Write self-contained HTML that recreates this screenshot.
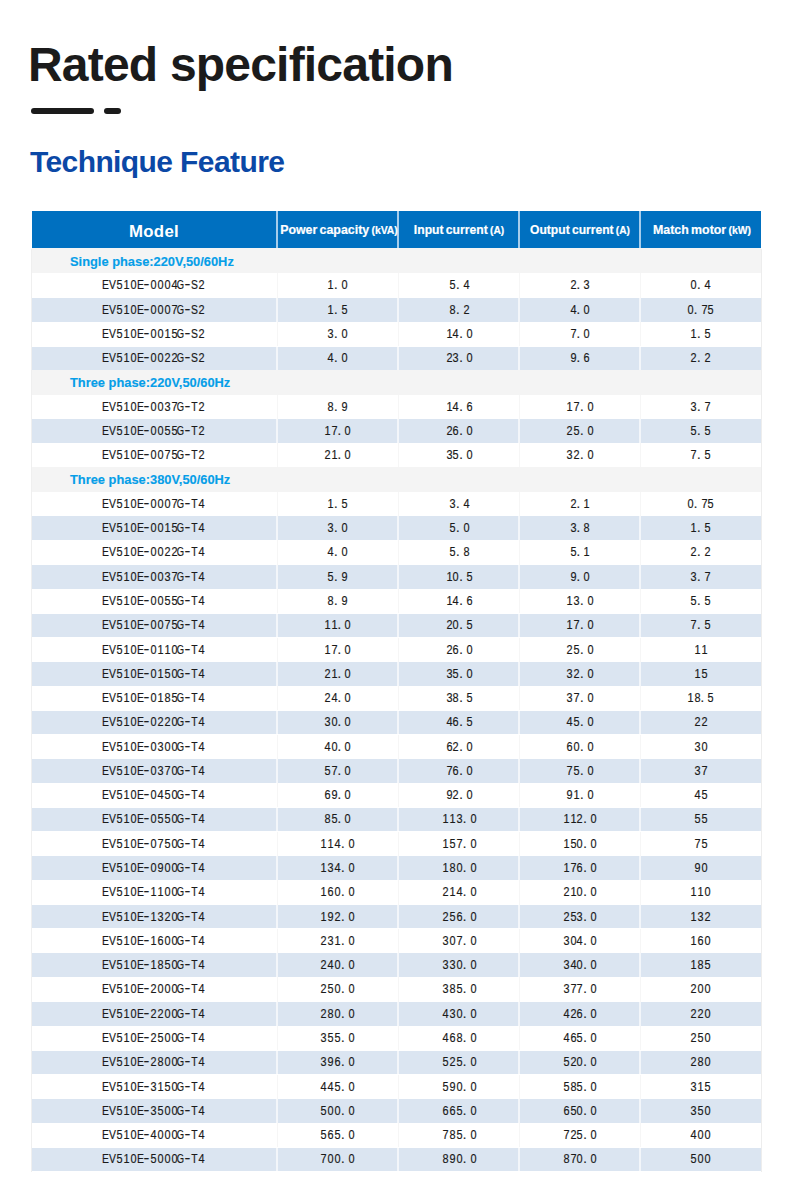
<!DOCTYPE html><html><head><meta charset="utf-8"><style>
*{margin:0;padding:0;box-sizing:border-box}
html,body{width:790px;height:1194px;background:#fff;overflow:hidden;position:relative}
.a{position:absolute}
.t{font-family:"Liberation Sans",sans-serif;white-space:nowrap}
#title{left:28px;top:37px;font-size:48px;font-weight:bold;color:#1b1b1b;letter-spacing:-0.8px}
.dash{background:#1b1b1b;border-radius:3px;height:6px;top:108px}
#sub{left:30px;top:145px;font-size:30px;font-weight:bold;color:#0b48a6;letter-spacing:-0.6px}
.hdr{background:#0070c0}
.hl{color:#fff;font-weight:bold;text-align:center;line-height:1}
.sec{background:#f4f4f4}
.sl{color:#069ee8;font-weight:bold;font-size:13.5px;left:69.8px;-webkit-text-stroke:0.15px #069ee8;line-height:1;transform-origin:0 0;transform:scaleX(0.952)}
.rb{background:#dbe5f1}
.m{font-family:"Liberation Sans",sans-serif;color:#1a1a1a;font-size:13px;line-height:1;white-space:nowrap;display:flex;justify-content:center;-webkit-text-stroke:0.18px #1a1a1a}
.m i{font-style:normal;display:inline-flex;justify-content:center;width:6.83px;overflow:visible}
.m i.L{transform:scaleX(0.8)}
.m i.G{transform:scaleX(0.72)}
.m i.d{transform:scaleX(0.84)}
.m i.p{justify-content:flex-start;text-indent:0}
.m i.h{transform:translateY(-0.8px) scaleX(1.35)}
</style></head><body>
<div class="a t" id="title">Rated specification</div>
<div class="a dash" style="left:31px;width:63px"></div>
<div class="a dash" style="left:104px;width:17px"></div>
<div class="a t" id="sub">Technique Feature</div>
<div class="a hdr" style="left:32px;top:210.60px;width:729px;height:37.20px"></div>
<div class="a" style="left:276.0px;top:210.60px;width:2px;height:37.20px;background:#a6cdec"></div>
<div class="a" style="left:397.0px;top:210.60px;width:2px;height:37.20px;background:#a6cdec"></div>
<div class="a" style="left:518.0px;top:210.60px;width:2px;height:37.20px;background:#a6cdec"></div>
<div class="a" style="left:639.0px;top:210.60px;width:2px;height:37.20px;background:#a6cdec"></div>
<div class="a t hl" style="left:154.00px;top:223.6px;font-size:16.8px;letter-spacing:0.3px;transform:translateX(-50%)">Model</div>
<div class="a t hl" style="left:338.50px;top:222.60px;font-size:13.1px;word-spacing:-1.2px;-webkit-text-stroke:0.2px #fff;transform:translateX(-50%) scaleX(0.9450)">Power capacity <span style="font-size:11.0px">(kVA)</span></div>
<div class="a t hl" style="left:458.90px;top:222.60px;font-size:13.1px;word-spacing:-1.2px;-webkit-text-stroke:0.2px #fff;transform:translateX(-50%) scaleX(0.9290)">Input current <span style="font-size:11.0px">(A)</span></div>
<div class="a t hl" style="left:580.30px;top:222.60px;font-size:13.1px;word-spacing:-1.2px;-webkit-text-stroke:0.2px #fff;transform:translateX(-50%) scaleX(0.9240)">Output current <span style="font-size:11.0px">(A)</span></div>
<div class="a t hl" style="left:701.50px;top:222.60px;font-size:13.1px;word-spacing:-1.2px;-webkit-text-stroke:0.2px #fff;transform:translateX(-50%) scaleX(0.9450)">Match motor <span style="font-size:11.0px">(kW)</span></div>
<div class="a" style="left:31px;top:249.10px;width:1px;height:922.53px;background:#efefef"></div>
<div class="a" style="left:761px;top:249.10px;width:1px;height:922.53px;background:#ededed"></div>
<div class="a sec" style="left:32px;top:248.40px;width:729px;height:24.78px"></div>
<div class="a t sl" style="top:254.50px">Single phase:220V,50/60Hz</div>
<div class="a" style="left:276.5px;top:273.38px;width:1px;height:24.28px;background:#f6f6f6"></div>
<div class="a" style="left:397.5px;top:273.38px;width:1px;height:24.28px;background:#f6f6f6"></div>
<div class="a" style="left:518.5px;top:273.38px;width:1px;height:24.28px;background:#f6f6f6"></div>
<div class="a" style="left:639.5px;top:273.38px;width:1px;height:24.28px;background:#f6f6f6"></div>
<div class="a m" style="left:31.10px;width:245px;top:278.38px"><i class="L">E</i><i class="L">V</i><i class="d">5</i><i class="d">1</i><i class="d">0</i><i class="L">E</i><i class="h">-</i><i class="d">0</i><i class="d">0</i><i class="d">0</i><i class="d">4</i><i class="G">G</i><i class="h">-</i><i class="L">S</i><i class="d">2</i></div>
<div class="a m" style="left:277.00px;width:121px;top:278.38px"><i class="d">1</i><i class="p">.</i><i class="d">0</i></div>
<div class="a m" style="left:398.80px;width:121px;top:278.38px"><i class="d">5</i><i class="p">.</i><i class="d">4</i></div>
<div class="a m" style="left:519.40px;width:121px;top:278.38px"><i class="d">2</i><i class="p">.</i><i class="d">3</i></div>
<div class="a m" style="left:640.00px;width:121px;top:278.38px"><i class="d">0</i><i class="p">.</i><i class="d">4</i></div>
<div class="a rb" style="left:32px;top:297.95px;width:729px;height:23.58px"></div>
<div class="a" style="left:276.0px;top:297.95px;width:2px;height:23.58px;background:#f3f6fa"></div>
<div class="a" style="left:397.0px;top:297.95px;width:2px;height:23.58px;background:#f3f6fa"></div>
<div class="a" style="left:518.0px;top:297.95px;width:2px;height:23.58px;background:#f3f6fa"></div>
<div class="a" style="left:639.0px;top:297.95px;width:2px;height:23.58px;background:#f3f6fa"></div>
<div class="a m" style="left:31.10px;width:245px;top:302.65px"><i class="L">E</i><i class="L">V</i><i class="d">5</i><i class="d">1</i><i class="d">0</i><i class="L">E</i><i class="h">-</i><i class="d">0</i><i class="d">0</i><i class="d">0</i><i class="d">7</i><i class="G">G</i><i class="h">-</i><i class="L">S</i><i class="d">2</i></div>
<div class="a m" style="left:277.00px;width:121px;top:302.65px"><i class="d">1</i><i class="p">.</i><i class="d">5</i></div>
<div class="a m" style="left:398.80px;width:121px;top:302.65px"><i class="d">8</i><i class="p">.</i><i class="d">2</i></div>
<div class="a m" style="left:519.40px;width:121px;top:302.65px"><i class="d">4</i><i class="p">.</i><i class="d">0</i></div>
<div class="a m" style="left:640.00px;width:121px;top:302.65px"><i class="d">0</i><i class="p">.</i><i class="d">7</i><i class="d">5</i></div>
<div class="a" style="left:276.5px;top:321.93px;width:1px;height:24.28px;background:#f6f6f6"></div>
<div class="a" style="left:397.5px;top:321.93px;width:1px;height:24.28px;background:#f6f6f6"></div>
<div class="a" style="left:518.5px;top:321.93px;width:1px;height:24.28px;background:#f6f6f6"></div>
<div class="a" style="left:639.5px;top:321.93px;width:1px;height:24.28px;background:#f6f6f6"></div>
<div class="a m" style="left:31.10px;width:245px;top:326.93px"><i class="L">E</i><i class="L">V</i><i class="d">5</i><i class="d">1</i><i class="d">0</i><i class="L">E</i><i class="h">-</i><i class="d">0</i><i class="d">0</i><i class="d">1</i><i class="d">5</i><i class="G">G</i><i class="h">-</i><i class="L">S</i><i class="d">2</i></div>
<div class="a m" style="left:277.00px;width:121px;top:326.93px"><i class="d">3</i><i class="p">.</i><i class="d">0</i></div>
<div class="a m" style="left:398.80px;width:121px;top:326.93px"><i class="d">1</i><i class="d">4</i><i class="p">.</i><i class="d">0</i></div>
<div class="a m" style="left:519.40px;width:121px;top:326.93px"><i class="d">7</i><i class="p">.</i><i class="d">0</i></div>
<div class="a m" style="left:640.00px;width:121px;top:326.93px"><i class="d">1</i><i class="p">.</i><i class="d">5</i></div>
<div class="a rb" style="left:32px;top:346.51px;width:729px;height:23.58px"></div>
<div class="a" style="left:276.0px;top:346.51px;width:2px;height:23.58px;background:#f3f6fa"></div>
<div class="a" style="left:397.0px;top:346.51px;width:2px;height:23.58px;background:#f3f6fa"></div>
<div class="a" style="left:518.0px;top:346.51px;width:2px;height:23.58px;background:#f3f6fa"></div>
<div class="a" style="left:639.0px;top:346.51px;width:2px;height:23.58px;background:#f3f6fa"></div>
<div class="a m" style="left:31.10px;width:245px;top:351.21px"><i class="L">E</i><i class="L">V</i><i class="d">5</i><i class="d">1</i><i class="d">0</i><i class="L">E</i><i class="h">-</i><i class="d">0</i><i class="d">0</i><i class="d">2</i><i class="d">2</i><i class="G">G</i><i class="h">-</i><i class="L">S</i><i class="d">2</i></div>
<div class="a m" style="left:277.00px;width:121px;top:351.21px"><i class="d">4</i><i class="p">.</i><i class="d">0</i></div>
<div class="a m" style="left:398.80px;width:121px;top:351.21px"><i class="d">2</i><i class="d">3</i><i class="p">.</i><i class="d">0</i></div>
<div class="a m" style="left:519.40px;width:121px;top:351.21px"><i class="d">9</i><i class="p">.</i><i class="d">6</i></div>
<div class="a m" style="left:640.00px;width:121px;top:351.21px"><i class="d">2</i><i class="p">.</i><i class="d">2</i></div>
<div class="a sec" style="left:32px;top:369.79px;width:729px;height:24.78px"></div>
<div class="a t sl" style="top:375.88px">Three phase:220V,50/60Hz</div>
<div class="a" style="left:276.5px;top:394.76px;width:1px;height:24.28px;background:#f6f6f6"></div>
<div class="a" style="left:397.5px;top:394.76px;width:1px;height:24.28px;background:#f6f6f6"></div>
<div class="a" style="left:518.5px;top:394.76px;width:1px;height:24.28px;background:#f6f6f6"></div>
<div class="a" style="left:639.5px;top:394.76px;width:1px;height:24.28px;background:#f6f6f6"></div>
<div class="a m" style="left:31.10px;width:245px;top:399.76px"><i class="L">E</i><i class="L">V</i><i class="d">5</i><i class="d">1</i><i class="d">0</i><i class="L">E</i><i class="h">-</i><i class="d">0</i><i class="d">0</i><i class="d">3</i><i class="d">7</i><i class="G">G</i><i class="h">-</i><i class="L">T</i><i class="d">2</i></div>
<div class="a m" style="left:277.00px;width:121px;top:399.76px"><i class="d">8</i><i class="p">.</i><i class="d">9</i></div>
<div class="a m" style="left:398.80px;width:121px;top:399.76px"><i class="d">1</i><i class="d">4</i><i class="p">.</i><i class="d">6</i></div>
<div class="a m" style="left:519.40px;width:121px;top:399.76px"><i class="d">1</i><i class="d">7</i><i class="p">.</i><i class="d">0</i></div>
<div class="a m" style="left:640.00px;width:121px;top:399.76px"><i class="d">3</i><i class="p">.</i><i class="d">7</i></div>
<div class="a rb" style="left:32px;top:419.34px;width:729px;height:23.58px"></div>
<div class="a" style="left:276.0px;top:419.34px;width:2px;height:23.58px;background:#f3f6fa"></div>
<div class="a" style="left:397.0px;top:419.34px;width:2px;height:23.58px;background:#f3f6fa"></div>
<div class="a" style="left:518.0px;top:419.34px;width:2px;height:23.58px;background:#f3f6fa"></div>
<div class="a" style="left:639.0px;top:419.34px;width:2px;height:23.58px;background:#f3f6fa"></div>
<div class="a m" style="left:31.10px;width:245px;top:424.04px"><i class="L">E</i><i class="L">V</i><i class="d">5</i><i class="d">1</i><i class="d">0</i><i class="L">E</i><i class="h">-</i><i class="d">0</i><i class="d">0</i><i class="d">5</i><i class="d">5</i><i class="G">G</i><i class="h">-</i><i class="L">T</i><i class="d">2</i></div>
<div class="a m" style="left:277.00px;width:121px;top:424.04px"><i class="d">1</i><i class="d">7</i><i class="p">.</i><i class="d">0</i></div>
<div class="a m" style="left:398.80px;width:121px;top:424.04px"><i class="d">2</i><i class="d">6</i><i class="p">.</i><i class="d">0</i></div>
<div class="a m" style="left:519.40px;width:121px;top:424.04px"><i class="d">2</i><i class="d">5</i><i class="p">.</i><i class="d">0</i></div>
<div class="a m" style="left:640.00px;width:121px;top:424.04px"><i class="d">5</i><i class="p">.</i><i class="d">5</i></div>
<div class="a" style="left:276.5px;top:443.32px;width:1px;height:24.28px;background:#f6f6f6"></div>
<div class="a" style="left:397.5px;top:443.32px;width:1px;height:24.28px;background:#f6f6f6"></div>
<div class="a" style="left:518.5px;top:443.32px;width:1px;height:24.28px;background:#f6f6f6"></div>
<div class="a" style="left:639.5px;top:443.32px;width:1px;height:24.28px;background:#f6f6f6"></div>
<div class="a m" style="left:31.10px;width:245px;top:448.32px"><i class="L">E</i><i class="L">V</i><i class="d">5</i><i class="d">1</i><i class="d">0</i><i class="L">E</i><i class="h">-</i><i class="d">0</i><i class="d">0</i><i class="d">7</i><i class="d">5</i><i class="G">G</i><i class="h">-</i><i class="L">T</i><i class="d">2</i></div>
<div class="a m" style="left:277.00px;width:121px;top:448.32px"><i class="d">2</i><i class="d">1</i><i class="p">.</i><i class="d">0</i></div>
<div class="a m" style="left:398.80px;width:121px;top:448.32px"><i class="d">3</i><i class="d">5</i><i class="p">.</i><i class="d">0</i></div>
<div class="a m" style="left:519.40px;width:121px;top:448.32px"><i class="d">3</i><i class="d">2</i><i class="p">.</i><i class="d">0</i></div>
<div class="a m" style="left:640.00px;width:121px;top:448.32px"><i class="d">7</i><i class="p">.</i><i class="d">5</i></div>
<div class="a sec" style="left:32px;top:466.89px;width:729px;height:24.78px"></div>
<div class="a t sl" style="top:472.99px">Three phase:380V,50/60Hz</div>
<div class="a" style="left:276.5px;top:491.87px;width:1px;height:24.28px;background:#f6f6f6"></div>
<div class="a" style="left:397.5px;top:491.87px;width:1px;height:24.28px;background:#f6f6f6"></div>
<div class="a" style="left:518.5px;top:491.87px;width:1px;height:24.28px;background:#f6f6f6"></div>
<div class="a" style="left:639.5px;top:491.87px;width:1px;height:24.28px;background:#f6f6f6"></div>
<div class="a m" style="left:31.10px;width:245px;top:496.87px"><i class="L">E</i><i class="L">V</i><i class="d">5</i><i class="d">1</i><i class="d">0</i><i class="L">E</i><i class="h">-</i><i class="d">0</i><i class="d">0</i><i class="d">0</i><i class="d">7</i><i class="G">G</i><i class="h">-</i><i class="L">T</i><i class="d">4</i></div>
<div class="a m" style="left:277.00px;width:121px;top:496.87px"><i class="d">1</i><i class="p">.</i><i class="d">5</i></div>
<div class="a m" style="left:398.80px;width:121px;top:496.87px"><i class="d">3</i><i class="p">.</i><i class="d">4</i></div>
<div class="a m" style="left:519.40px;width:121px;top:496.87px"><i class="d">2</i><i class="p">.</i><i class="d">1</i></div>
<div class="a m" style="left:640.00px;width:121px;top:496.87px"><i class="d">0</i><i class="p">.</i><i class="d">7</i><i class="d">5</i></div>
<div class="a rb" style="left:32px;top:516.45px;width:729px;height:23.58px"></div>
<div class="a" style="left:276.0px;top:516.45px;width:2px;height:23.58px;background:#f3f6fa"></div>
<div class="a" style="left:397.0px;top:516.45px;width:2px;height:23.58px;background:#f3f6fa"></div>
<div class="a" style="left:518.0px;top:516.45px;width:2px;height:23.58px;background:#f3f6fa"></div>
<div class="a" style="left:639.0px;top:516.45px;width:2px;height:23.58px;background:#f3f6fa"></div>
<div class="a m" style="left:31.10px;width:245px;top:521.15px"><i class="L">E</i><i class="L">V</i><i class="d">5</i><i class="d">1</i><i class="d">0</i><i class="L">E</i><i class="h">-</i><i class="d">0</i><i class="d">0</i><i class="d">1</i><i class="d">5</i><i class="G">G</i><i class="h">-</i><i class="L">T</i><i class="d">4</i></div>
<div class="a m" style="left:277.00px;width:121px;top:521.15px"><i class="d">3</i><i class="p">.</i><i class="d">0</i></div>
<div class="a m" style="left:398.80px;width:121px;top:521.15px"><i class="d">5</i><i class="p">.</i><i class="d">0</i></div>
<div class="a m" style="left:519.40px;width:121px;top:521.15px"><i class="d">3</i><i class="p">.</i><i class="d">8</i></div>
<div class="a m" style="left:640.00px;width:121px;top:521.15px"><i class="d">1</i><i class="p">.</i><i class="d">5</i></div>
<div class="a" style="left:276.5px;top:540.42px;width:1px;height:24.28px;background:#f6f6f6"></div>
<div class="a" style="left:397.5px;top:540.42px;width:1px;height:24.28px;background:#f6f6f6"></div>
<div class="a" style="left:518.5px;top:540.42px;width:1px;height:24.28px;background:#f6f6f6"></div>
<div class="a" style="left:639.5px;top:540.42px;width:1px;height:24.28px;background:#f6f6f6"></div>
<div class="a m" style="left:31.10px;width:245px;top:545.42px"><i class="L">E</i><i class="L">V</i><i class="d">5</i><i class="d">1</i><i class="d">0</i><i class="L">E</i><i class="h">-</i><i class="d">0</i><i class="d">0</i><i class="d">2</i><i class="d">2</i><i class="G">G</i><i class="h">-</i><i class="L">T</i><i class="d">4</i></div>
<div class="a m" style="left:277.00px;width:121px;top:545.42px"><i class="d">4</i><i class="p">.</i><i class="d">0</i></div>
<div class="a m" style="left:398.80px;width:121px;top:545.42px"><i class="d">5</i><i class="p">.</i><i class="d">8</i></div>
<div class="a m" style="left:519.40px;width:121px;top:545.42px"><i class="d">5</i><i class="p">.</i><i class="d">1</i></div>
<div class="a m" style="left:640.00px;width:121px;top:545.42px"><i class="d">2</i><i class="p">.</i><i class="d">2</i></div>
<div class="a rb" style="left:32px;top:565.00px;width:729px;height:23.58px"></div>
<div class="a" style="left:276.0px;top:565.00px;width:2px;height:23.58px;background:#f3f6fa"></div>
<div class="a" style="left:397.0px;top:565.00px;width:2px;height:23.58px;background:#f3f6fa"></div>
<div class="a" style="left:518.0px;top:565.00px;width:2px;height:23.58px;background:#f3f6fa"></div>
<div class="a" style="left:639.0px;top:565.00px;width:2px;height:23.58px;background:#f3f6fa"></div>
<div class="a m" style="left:31.10px;width:245px;top:569.70px"><i class="L">E</i><i class="L">V</i><i class="d">5</i><i class="d">1</i><i class="d">0</i><i class="L">E</i><i class="h">-</i><i class="d">0</i><i class="d">0</i><i class="d">3</i><i class="d">7</i><i class="G">G</i><i class="h">-</i><i class="L">T</i><i class="d">4</i></div>
<div class="a m" style="left:277.00px;width:121px;top:569.70px"><i class="d">5</i><i class="p">.</i><i class="d">9</i></div>
<div class="a m" style="left:398.80px;width:121px;top:569.70px"><i class="d">1</i><i class="d">0</i><i class="p">.</i><i class="d">5</i></div>
<div class="a m" style="left:519.40px;width:121px;top:569.70px"><i class="d">9</i><i class="p">.</i><i class="d">0</i></div>
<div class="a m" style="left:640.00px;width:121px;top:569.70px"><i class="d">3</i><i class="p">.</i><i class="d">7</i></div>
<div class="a" style="left:276.5px;top:588.98px;width:1px;height:24.28px;background:#f6f6f6"></div>
<div class="a" style="left:397.5px;top:588.98px;width:1px;height:24.28px;background:#f6f6f6"></div>
<div class="a" style="left:518.5px;top:588.98px;width:1px;height:24.28px;background:#f6f6f6"></div>
<div class="a" style="left:639.5px;top:588.98px;width:1px;height:24.28px;background:#f6f6f6"></div>
<div class="a m" style="left:31.10px;width:245px;top:593.98px"><i class="L">E</i><i class="L">V</i><i class="d">5</i><i class="d">1</i><i class="d">0</i><i class="L">E</i><i class="h">-</i><i class="d">0</i><i class="d">0</i><i class="d">5</i><i class="d">5</i><i class="G">G</i><i class="h">-</i><i class="L">T</i><i class="d">4</i></div>
<div class="a m" style="left:277.00px;width:121px;top:593.98px"><i class="d">8</i><i class="p">.</i><i class="d">9</i></div>
<div class="a m" style="left:398.80px;width:121px;top:593.98px"><i class="d">1</i><i class="d">4</i><i class="p">.</i><i class="d">6</i></div>
<div class="a m" style="left:519.40px;width:121px;top:593.98px"><i class="d">1</i><i class="d">3</i><i class="p">.</i><i class="d">0</i></div>
<div class="a m" style="left:640.00px;width:121px;top:593.98px"><i class="d">5</i><i class="p">.</i><i class="d">5</i></div>
<div class="a rb" style="left:32px;top:613.55px;width:729px;height:23.58px"></div>
<div class="a" style="left:276.0px;top:613.55px;width:2px;height:23.58px;background:#f3f6fa"></div>
<div class="a" style="left:397.0px;top:613.55px;width:2px;height:23.58px;background:#f3f6fa"></div>
<div class="a" style="left:518.0px;top:613.55px;width:2px;height:23.58px;background:#f3f6fa"></div>
<div class="a" style="left:639.0px;top:613.55px;width:2px;height:23.58px;background:#f3f6fa"></div>
<div class="a m" style="left:31.10px;width:245px;top:618.25px"><i class="L">E</i><i class="L">V</i><i class="d">5</i><i class="d">1</i><i class="d">0</i><i class="L">E</i><i class="h">-</i><i class="d">0</i><i class="d">0</i><i class="d">7</i><i class="d">5</i><i class="G">G</i><i class="h">-</i><i class="L">T</i><i class="d">4</i></div>
<div class="a m" style="left:277.00px;width:121px;top:618.25px"><i class="d">1</i><i class="d">1</i><i class="p">.</i><i class="d">0</i></div>
<div class="a m" style="left:398.80px;width:121px;top:618.25px"><i class="d">2</i><i class="d">0</i><i class="p">.</i><i class="d">5</i></div>
<div class="a m" style="left:519.40px;width:121px;top:618.25px"><i class="d">1</i><i class="d">7</i><i class="p">.</i><i class="d">0</i></div>
<div class="a m" style="left:640.00px;width:121px;top:618.25px"><i class="d">7</i><i class="p">.</i><i class="d">5</i></div>
<div class="a" style="left:276.5px;top:637.53px;width:1px;height:24.28px;background:#f6f6f6"></div>
<div class="a" style="left:397.5px;top:637.53px;width:1px;height:24.28px;background:#f6f6f6"></div>
<div class="a" style="left:518.5px;top:637.53px;width:1px;height:24.28px;background:#f6f6f6"></div>
<div class="a" style="left:639.5px;top:637.53px;width:1px;height:24.28px;background:#f6f6f6"></div>
<div class="a m" style="left:31.10px;width:245px;top:642.53px"><i class="L">E</i><i class="L">V</i><i class="d">5</i><i class="d">1</i><i class="d">0</i><i class="L">E</i><i class="h">-</i><i class="d">0</i><i class="d">1</i><i class="d">1</i><i class="d">0</i><i class="G">G</i><i class="h">-</i><i class="L">T</i><i class="d">4</i></div>
<div class="a m" style="left:277.00px;width:121px;top:642.53px"><i class="d">1</i><i class="d">7</i><i class="p">.</i><i class="d">0</i></div>
<div class="a m" style="left:398.80px;width:121px;top:642.53px"><i class="d">2</i><i class="d">6</i><i class="p">.</i><i class="d">0</i></div>
<div class="a m" style="left:519.40px;width:121px;top:642.53px"><i class="d">2</i><i class="d">5</i><i class="p">.</i><i class="d">0</i></div>
<div class="a m" style="left:640.00px;width:121px;top:642.53px"><i class="d">1</i><i class="d">1</i></div>
<div class="a rb" style="left:32px;top:662.11px;width:729px;height:23.58px"></div>
<div class="a" style="left:276.0px;top:662.11px;width:2px;height:23.58px;background:#f3f6fa"></div>
<div class="a" style="left:397.0px;top:662.11px;width:2px;height:23.58px;background:#f3f6fa"></div>
<div class="a" style="left:518.0px;top:662.11px;width:2px;height:23.58px;background:#f3f6fa"></div>
<div class="a" style="left:639.0px;top:662.11px;width:2px;height:23.58px;background:#f3f6fa"></div>
<div class="a m" style="left:31.10px;width:245px;top:666.81px"><i class="L">E</i><i class="L">V</i><i class="d">5</i><i class="d">1</i><i class="d">0</i><i class="L">E</i><i class="h">-</i><i class="d">0</i><i class="d">1</i><i class="d">5</i><i class="d">0</i><i class="G">G</i><i class="h">-</i><i class="L">T</i><i class="d">4</i></div>
<div class="a m" style="left:277.00px;width:121px;top:666.81px"><i class="d">2</i><i class="d">1</i><i class="p">.</i><i class="d">0</i></div>
<div class="a m" style="left:398.80px;width:121px;top:666.81px"><i class="d">3</i><i class="d">5</i><i class="p">.</i><i class="d">0</i></div>
<div class="a m" style="left:519.40px;width:121px;top:666.81px"><i class="d">3</i><i class="d">2</i><i class="p">.</i><i class="d">0</i></div>
<div class="a m" style="left:640.00px;width:121px;top:666.81px"><i class="d">1</i><i class="d">5</i></div>
<div class="a" style="left:276.5px;top:686.09px;width:1px;height:24.28px;background:#f6f6f6"></div>
<div class="a" style="left:397.5px;top:686.09px;width:1px;height:24.28px;background:#f6f6f6"></div>
<div class="a" style="left:518.5px;top:686.09px;width:1px;height:24.28px;background:#f6f6f6"></div>
<div class="a" style="left:639.5px;top:686.09px;width:1px;height:24.28px;background:#f6f6f6"></div>
<div class="a m" style="left:31.10px;width:245px;top:691.09px"><i class="L">E</i><i class="L">V</i><i class="d">5</i><i class="d">1</i><i class="d">0</i><i class="L">E</i><i class="h">-</i><i class="d">0</i><i class="d">1</i><i class="d">8</i><i class="d">5</i><i class="G">G</i><i class="h">-</i><i class="L">T</i><i class="d">4</i></div>
<div class="a m" style="left:277.00px;width:121px;top:691.09px"><i class="d">2</i><i class="d">4</i><i class="p">.</i><i class="d">0</i></div>
<div class="a m" style="left:398.80px;width:121px;top:691.09px"><i class="d">3</i><i class="d">8</i><i class="p">.</i><i class="d">5</i></div>
<div class="a m" style="left:519.40px;width:121px;top:691.09px"><i class="d">3</i><i class="d">7</i><i class="p">.</i><i class="d">0</i></div>
<div class="a m" style="left:640.00px;width:121px;top:691.09px"><i class="d">1</i><i class="d">8</i><i class="p">.</i><i class="d">5</i></div>
<div class="a rb" style="left:32px;top:710.66px;width:729px;height:23.58px"></div>
<div class="a" style="left:276.0px;top:710.66px;width:2px;height:23.58px;background:#f3f6fa"></div>
<div class="a" style="left:397.0px;top:710.66px;width:2px;height:23.58px;background:#f3f6fa"></div>
<div class="a" style="left:518.0px;top:710.66px;width:2px;height:23.58px;background:#f3f6fa"></div>
<div class="a" style="left:639.0px;top:710.66px;width:2px;height:23.58px;background:#f3f6fa"></div>
<div class="a m" style="left:31.10px;width:245px;top:715.36px"><i class="L">E</i><i class="L">V</i><i class="d">5</i><i class="d">1</i><i class="d">0</i><i class="L">E</i><i class="h">-</i><i class="d">0</i><i class="d">2</i><i class="d">2</i><i class="d">0</i><i class="G">G</i><i class="h">-</i><i class="L">T</i><i class="d">4</i></div>
<div class="a m" style="left:277.00px;width:121px;top:715.36px"><i class="d">3</i><i class="d">0</i><i class="p">.</i><i class="d">0</i></div>
<div class="a m" style="left:398.80px;width:121px;top:715.36px"><i class="d">4</i><i class="d">6</i><i class="p">.</i><i class="d">5</i></div>
<div class="a m" style="left:519.40px;width:121px;top:715.36px"><i class="d">4</i><i class="d">5</i><i class="p">.</i><i class="d">0</i></div>
<div class="a m" style="left:640.00px;width:121px;top:715.36px"><i class="d">2</i><i class="d">2</i></div>
<div class="a" style="left:276.5px;top:734.64px;width:1px;height:24.28px;background:#f6f6f6"></div>
<div class="a" style="left:397.5px;top:734.64px;width:1px;height:24.28px;background:#f6f6f6"></div>
<div class="a" style="left:518.5px;top:734.64px;width:1px;height:24.28px;background:#f6f6f6"></div>
<div class="a" style="left:639.5px;top:734.64px;width:1px;height:24.28px;background:#f6f6f6"></div>
<div class="a m" style="left:31.10px;width:245px;top:739.64px"><i class="L">E</i><i class="L">V</i><i class="d">5</i><i class="d">1</i><i class="d">0</i><i class="L">E</i><i class="h">-</i><i class="d">0</i><i class="d">3</i><i class="d">0</i><i class="d">0</i><i class="G">G</i><i class="h">-</i><i class="L">T</i><i class="d">4</i></div>
<div class="a m" style="left:277.00px;width:121px;top:739.64px"><i class="d">4</i><i class="d">0</i><i class="p">.</i><i class="d">0</i></div>
<div class="a m" style="left:398.80px;width:121px;top:739.64px"><i class="d">6</i><i class="d">2</i><i class="p">.</i><i class="d">0</i></div>
<div class="a m" style="left:519.40px;width:121px;top:739.64px"><i class="d">6</i><i class="d">0</i><i class="p">.</i><i class="d">0</i></div>
<div class="a m" style="left:640.00px;width:121px;top:739.64px"><i class="d">3</i><i class="d">0</i></div>
<div class="a rb" style="left:32px;top:759.22px;width:729px;height:23.58px"></div>
<div class="a" style="left:276.0px;top:759.22px;width:2px;height:23.58px;background:#f3f6fa"></div>
<div class="a" style="left:397.0px;top:759.22px;width:2px;height:23.58px;background:#f3f6fa"></div>
<div class="a" style="left:518.0px;top:759.22px;width:2px;height:23.58px;background:#f3f6fa"></div>
<div class="a" style="left:639.0px;top:759.22px;width:2px;height:23.58px;background:#f3f6fa"></div>
<div class="a m" style="left:31.10px;width:245px;top:763.92px"><i class="L">E</i><i class="L">V</i><i class="d">5</i><i class="d">1</i><i class="d">0</i><i class="L">E</i><i class="h">-</i><i class="d">0</i><i class="d">3</i><i class="d">7</i><i class="d">0</i><i class="G">G</i><i class="h">-</i><i class="L">T</i><i class="d">4</i></div>
<div class="a m" style="left:277.00px;width:121px;top:763.92px"><i class="d">5</i><i class="d">7</i><i class="p">.</i><i class="d">0</i></div>
<div class="a m" style="left:398.80px;width:121px;top:763.92px"><i class="d">7</i><i class="d">6</i><i class="p">.</i><i class="d">0</i></div>
<div class="a m" style="left:519.40px;width:121px;top:763.92px"><i class="d">7</i><i class="d">5</i><i class="p">.</i><i class="d">0</i></div>
<div class="a m" style="left:640.00px;width:121px;top:763.92px"><i class="d">3</i><i class="d">7</i></div>
<div class="a" style="left:276.5px;top:783.19px;width:1px;height:24.28px;background:#f6f6f6"></div>
<div class="a" style="left:397.5px;top:783.19px;width:1px;height:24.28px;background:#f6f6f6"></div>
<div class="a" style="left:518.5px;top:783.19px;width:1px;height:24.28px;background:#f6f6f6"></div>
<div class="a" style="left:639.5px;top:783.19px;width:1px;height:24.28px;background:#f6f6f6"></div>
<div class="a m" style="left:31.10px;width:245px;top:788.19px"><i class="L">E</i><i class="L">V</i><i class="d">5</i><i class="d">1</i><i class="d">0</i><i class="L">E</i><i class="h">-</i><i class="d">0</i><i class="d">4</i><i class="d">5</i><i class="d">0</i><i class="G">G</i><i class="h">-</i><i class="L">T</i><i class="d">4</i></div>
<div class="a m" style="left:277.00px;width:121px;top:788.19px"><i class="d">6</i><i class="d">9</i><i class="p">.</i><i class="d">0</i></div>
<div class="a m" style="left:398.80px;width:121px;top:788.19px"><i class="d">9</i><i class="d">2</i><i class="p">.</i><i class="d">0</i></div>
<div class="a m" style="left:519.40px;width:121px;top:788.19px"><i class="d">9</i><i class="d">1</i><i class="p">.</i><i class="d">0</i></div>
<div class="a m" style="left:640.00px;width:121px;top:788.19px"><i class="d">4</i><i class="d">5</i></div>
<div class="a rb" style="left:32px;top:807.77px;width:729px;height:23.58px"></div>
<div class="a" style="left:276.0px;top:807.77px;width:2px;height:23.58px;background:#f3f6fa"></div>
<div class="a" style="left:397.0px;top:807.77px;width:2px;height:23.58px;background:#f3f6fa"></div>
<div class="a" style="left:518.0px;top:807.77px;width:2px;height:23.58px;background:#f3f6fa"></div>
<div class="a" style="left:639.0px;top:807.77px;width:2px;height:23.58px;background:#f3f6fa"></div>
<div class="a m" style="left:31.10px;width:245px;top:812.47px"><i class="L">E</i><i class="L">V</i><i class="d">5</i><i class="d">1</i><i class="d">0</i><i class="L">E</i><i class="h">-</i><i class="d">0</i><i class="d">5</i><i class="d">5</i><i class="d">0</i><i class="G">G</i><i class="h">-</i><i class="L">T</i><i class="d">4</i></div>
<div class="a m" style="left:277.00px;width:121px;top:812.47px"><i class="d">8</i><i class="d">5</i><i class="p">.</i><i class="d">0</i></div>
<div class="a m" style="left:398.80px;width:121px;top:812.47px"><i class="d">1</i><i class="d">1</i><i class="d">3</i><i class="p">.</i><i class="d">0</i></div>
<div class="a m" style="left:519.40px;width:121px;top:812.47px"><i class="d">1</i><i class="d">1</i><i class="d">2</i><i class="p">.</i><i class="d">0</i></div>
<div class="a m" style="left:640.00px;width:121px;top:812.47px"><i class="d">5</i><i class="d">5</i></div>
<div class="a" style="left:276.5px;top:831.75px;width:1px;height:24.28px;background:#f6f6f6"></div>
<div class="a" style="left:397.5px;top:831.75px;width:1px;height:24.28px;background:#f6f6f6"></div>
<div class="a" style="left:518.5px;top:831.75px;width:1px;height:24.28px;background:#f6f6f6"></div>
<div class="a" style="left:639.5px;top:831.75px;width:1px;height:24.28px;background:#f6f6f6"></div>
<div class="a m" style="left:31.10px;width:245px;top:836.75px"><i class="L">E</i><i class="L">V</i><i class="d">5</i><i class="d">1</i><i class="d">0</i><i class="L">E</i><i class="h">-</i><i class="d">0</i><i class="d">7</i><i class="d">5</i><i class="d">0</i><i class="G">G</i><i class="h">-</i><i class="L">T</i><i class="d">4</i></div>
<div class="a m" style="left:277.00px;width:121px;top:836.75px"><i class="d">1</i><i class="d">1</i><i class="d">4</i><i class="p">.</i><i class="d">0</i></div>
<div class="a m" style="left:398.80px;width:121px;top:836.75px"><i class="d">1</i><i class="d">5</i><i class="d">7</i><i class="p">.</i><i class="d">0</i></div>
<div class="a m" style="left:519.40px;width:121px;top:836.75px"><i class="d">1</i><i class="d">5</i><i class="d">0</i><i class="p">.</i><i class="d">0</i></div>
<div class="a m" style="left:640.00px;width:121px;top:836.75px"><i class="d">7</i><i class="d">5</i></div>
<div class="a rb" style="left:32px;top:856.33px;width:729px;height:23.58px"></div>
<div class="a" style="left:276.0px;top:856.33px;width:2px;height:23.58px;background:#f3f6fa"></div>
<div class="a" style="left:397.0px;top:856.33px;width:2px;height:23.58px;background:#f3f6fa"></div>
<div class="a" style="left:518.0px;top:856.33px;width:2px;height:23.58px;background:#f3f6fa"></div>
<div class="a" style="left:639.0px;top:856.33px;width:2px;height:23.58px;background:#f3f6fa"></div>
<div class="a m" style="left:31.10px;width:245px;top:861.03px"><i class="L">E</i><i class="L">V</i><i class="d">5</i><i class="d">1</i><i class="d">0</i><i class="L">E</i><i class="h">-</i><i class="d">0</i><i class="d">9</i><i class="d">0</i><i class="d">0</i><i class="G">G</i><i class="h">-</i><i class="L">T</i><i class="d">4</i></div>
<div class="a m" style="left:277.00px;width:121px;top:861.03px"><i class="d">1</i><i class="d">3</i><i class="d">4</i><i class="p">.</i><i class="d">0</i></div>
<div class="a m" style="left:398.80px;width:121px;top:861.03px"><i class="d">1</i><i class="d">8</i><i class="d">0</i><i class="p">.</i><i class="d">0</i></div>
<div class="a m" style="left:519.40px;width:121px;top:861.03px"><i class="d">1</i><i class="d">7</i><i class="d">6</i><i class="p">.</i><i class="d">0</i></div>
<div class="a m" style="left:640.00px;width:121px;top:861.03px"><i class="d">9</i><i class="d">0</i></div>
<div class="a" style="left:276.5px;top:880.30px;width:1px;height:24.28px;background:#f6f6f6"></div>
<div class="a" style="left:397.5px;top:880.30px;width:1px;height:24.28px;background:#f6f6f6"></div>
<div class="a" style="left:518.5px;top:880.30px;width:1px;height:24.28px;background:#f6f6f6"></div>
<div class="a" style="left:639.5px;top:880.30px;width:1px;height:24.28px;background:#f6f6f6"></div>
<div class="a m" style="left:31.10px;width:245px;top:885.30px"><i class="L">E</i><i class="L">V</i><i class="d">5</i><i class="d">1</i><i class="d">0</i><i class="L">E</i><i class="h">-</i><i class="d">1</i><i class="d">1</i><i class="d">0</i><i class="d">0</i><i class="G">G</i><i class="h">-</i><i class="L">T</i><i class="d">4</i></div>
<div class="a m" style="left:277.00px;width:121px;top:885.30px"><i class="d">1</i><i class="d">6</i><i class="d">0</i><i class="p">.</i><i class="d">0</i></div>
<div class="a m" style="left:398.80px;width:121px;top:885.30px"><i class="d">2</i><i class="d">1</i><i class="d">4</i><i class="p">.</i><i class="d">0</i></div>
<div class="a m" style="left:519.40px;width:121px;top:885.30px"><i class="d">2</i><i class="d">1</i><i class="d">0</i><i class="p">.</i><i class="d">0</i></div>
<div class="a m" style="left:640.00px;width:121px;top:885.30px"><i class="d">1</i><i class="d">1</i><i class="d">0</i></div>
<div class="a rb" style="left:32px;top:904.88px;width:729px;height:23.58px"></div>
<div class="a" style="left:276.0px;top:904.88px;width:2px;height:23.58px;background:#f3f6fa"></div>
<div class="a" style="left:397.0px;top:904.88px;width:2px;height:23.58px;background:#f3f6fa"></div>
<div class="a" style="left:518.0px;top:904.88px;width:2px;height:23.58px;background:#f3f6fa"></div>
<div class="a" style="left:639.0px;top:904.88px;width:2px;height:23.58px;background:#f3f6fa"></div>
<div class="a m" style="left:31.10px;width:245px;top:909.58px"><i class="L">E</i><i class="L">V</i><i class="d">5</i><i class="d">1</i><i class="d">0</i><i class="L">E</i><i class="h">-</i><i class="d">1</i><i class="d">3</i><i class="d">2</i><i class="d">0</i><i class="G">G</i><i class="h">-</i><i class="L">T</i><i class="d">4</i></div>
<div class="a m" style="left:277.00px;width:121px;top:909.58px"><i class="d">1</i><i class="d">9</i><i class="d">2</i><i class="p">.</i><i class="d">0</i></div>
<div class="a m" style="left:398.80px;width:121px;top:909.58px"><i class="d">2</i><i class="d">5</i><i class="d">6</i><i class="p">.</i><i class="d">0</i></div>
<div class="a m" style="left:519.40px;width:121px;top:909.58px"><i class="d">2</i><i class="d">5</i><i class="d">3</i><i class="p">.</i><i class="d">0</i></div>
<div class="a m" style="left:640.00px;width:121px;top:909.58px"><i class="d">1</i><i class="d">3</i><i class="d">2</i></div>
<div class="a" style="left:276.5px;top:928.86px;width:1px;height:24.28px;background:#f6f6f6"></div>
<div class="a" style="left:397.5px;top:928.86px;width:1px;height:24.28px;background:#f6f6f6"></div>
<div class="a" style="left:518.5px;top:928.86px;width:1px;height:24.28px;background:#f6f6f6"></div>
<div class="a" style="left:639.5px;top:928.86px;width:1px;height:24.28px;background:#f6f6f6"></div>
<div class="a m" style="left:31.10px;width:245px;top:933.86px"><i class="L">E</i><i class="L">V</i><i class="d">5</i><i class="d">1</i><i class="d">0</i><i class="L">E</i><i class="h">-</i><i class="d">1</i><i class="d">6</i><i class="d">0</i><i class="d">0</i><i class="G">G</i><i class="h">-</i><i class="L">T</i><i class="d">4</i></div>
<div class="a m" style="left:277.00px;width:121px;top:933.86px"><i class="d">2</i><i class="d">3</i><i class="d">1</i><i class="p">.</i><i class="d">0</i></div>
<div class="a m" style="left:398.80px;width:121px;top:933.86px"><i class="d">3</i><i class="d">0</i><i class="d">7</i><i class="p">.</i><i class="d">0</i></div>
<div class="a m" style="left:519.40px;width:121px;top:933.86px"><i class="d">3</i><i class="d">0</i><i class="d">4</i><i class="p">.</i><i class="d">0</i></div>
<div class="a m" style="left:640.00px;width:121px;top:933.86px"><i class="d">1</i><i class="d">6</i><i class="d">0</i></div>
<div class="a rb" style="left:32px;top:953.43px;width:729px;height:23.58px"></div>
<div class="a" style="left:276.0px;top:953.43px;width:2px;height:23.58px;background:#f3f6fa"></div>
<div class="a" style="left:397.0px;top:953.43px;width:2px;height:23.58px;background:#f3f6fa"></div>
<div class="a" style="left:518.0px;top:953.43px;width:2px;height:23.58px;background:#f3f6fa"></div>
<div class="a" style="left:639.0px;top:953.43px;width:2px;height:23.58px;background:#f3f6fa"></div>
<div class="a m" style="left:31.10px;width:245px;top:958.13px"><i class="L">E</i><i class="L">V</i><i class="d">5</i><i class="d">1</i><i class="d">0</i><i class="L">E</i><i class="h">-</i><i class="d">1</i><i class="d">8</i><i class="d">5</i><i class="d">0</i><i class="G">G</i><i class="h">-</i><i class="L">T</i><i class="d">4</i></div>
<div class="a m" style="left:277.00px;width:121px;top:958.13px"><i class="d">2</i><i class="d">4</i><i class="d">0</i><i class="p">.</i><i class="d">0</i></div>
<div class="a m" style="left:398.80px;width:121px;top:958.13px"><i class="d">3</i><i class="d">3</i><i class="d">0</i><i class="p">.</i><i class="d">0</i></div>
<div class="a m" style="left:519.40px;width:121px;top:958.13px"><i class="d">3</i><i class="d">4</i><i class="d">0</i><i class="p">.</i><i class="d">0</i></div>
<div class="a m" style="left:640.00px;width:121px;top:958.13px"><i class="d">1</i><i class="d">8</i><i class="d">5</i></div>
<div class="a" style="left:276.5px;top:977.41px;width:1px;height:24.28px;background:#f6f6f6"></div>
<div class="a" style="left:397.5px;top:977.41px;width:1px;height:24.28px;background:#f6f6f6"></div>
<div class="a" style="left:518.5px;top:977.41px;width:1px;height:24.28px;background:#f6f6f6"></div>
<div class="a" style="left:639.5px;top:977.41px;width:1px;height:24.28px;background:#f6f6f6"></div>
<div class="a m" style="left:31.10px;width:245px;top:982.41px"><i class="L">E</i><i class="L">V</i><i class="d">5</i><i class="d">1</i><i class="d">0</i><i class="L">E</i><i class="h">-</i><i class="d">2</i><i class="d">0</i><i class="d">0</i><i class="d">0</i><i class="G">G</i><i class="h">-</i><i class="L">T</i><i class="d">4</i></div>
<div class="a m" style="left:277.00px;width:121px;top:982.41px"><i class="d">2</i><i class="d">5</i><i class="d">0</i><i class="p">.</i><i class="d">0</i></div>
<div class="a m" style="left:398.80px;width:121px;top:982.41px"><i class="d">3</i><i class="d">8</i><i class="d">5</i><i class="p">.</i><i class="d">0</i></div>
<div class="a m" style="left:519.40px;width:121px;top:982.41px"><i class="d">3</i><i class="d">7</i><i class="d">7</i><i class="p">.</i><i class="d">0</i></div>
<div class="a m" style="left:640.00px;width:121px;top:982.41px"><i class="d">2</i><i class="d">0</i><i class="d">0</i></div>
<div class="a rb" style="left:32px;top:1001.99px;width:729px;height:23.58px"></div>
<div class="a" style="left:276.0px;top:1001.99px;width:2px;height:23.58px;background:#f3f6fa"></div>
<div class="a" style="left:397.0px;top:1001.99px;width:2px;height:23.58px;background:#f3f6fa"></div>
<div class="a" style="left:518.0px;top:1001.99px;width:2px;height:23.58px;background:#f3f6fa"></div>
<div class="a" style="left:639.0px;top:1001.99px;width:2px;height:23.58px;background:#f3f6fa"></div>
<div class="a m" style="left:31.10px;width:245px;top:1006.69px"><i class="L">E</i><i class="L">V</i><i class="d">5</i><i class="d">1</i><i class="d">0</i><i class="L">E</i><i class="h">-</i><i class="d">2</i><i class="d">2</i><i class="d">0</i><i class="d">0</i><i class="G">G</i><i class="h">-</i><i class="L">T</i><i class="d">4</i></div>
<div class="a m" style="left:277.00px;width:121px;top:1006.69px"><i class="d">2</i><i class="d">8</i><i class="d">0</i><i class="p">.</i><i class="d">0</i></div>
<div class="a m" style="left:398.80px;width:121px;top:1006.69px"><i class="d">4</i><i class="d">3</i><i class="d">0</i><i class="p">.</i><i class="d">0</i></div>
<div class="a m" style="left:519.40px;width:121px;top:1006.69px"><i class="d">4</i><i class="d">2</i><i class="d">6</i><i class="p">.</i><i class="d">0</i></div>
<div class="a m" style="left:640.00px;width:121px;top:1006.69px"><i class="d">2</i><i class="d">2</i><i class="d">0</i></div>
<div class="a" style="left:276.5px;top:1025.96px;width:1px;height:24.28px;background:#f6f6f6"></div>
<div class="a" style="left:397.5px;top:1025.96px;width:1px;height:24.28px;background:#f6f6f6"></div>
<div class="a" style="left:518.5px;top:1025.96px;width:1px;height:24.28px;background:#f6f6f6"></div>
<div class="a" style="left:639.5px;top:1025.96px;width:1px;height:24.28px;background:#f6f6f6"></div>
<div class="a m" style="left:31.10px;width:245px;top:1030.96px"><i class="L">E</i><i class="L">V</i><i class="d">5</i><i class="d">1</i><i class="d">0</i><i class="L">E</i><i class="h">-</i><i class="d">2</i><i class="d">5</i><i class="d">0</i><i class="d">0</i><i class="G">G</i><i class="h">-</i><i class="L">T</i><i class="d">4</i></div>
<div class="a m" style="left:277.00px;width:121px;top:1030.96px"><i class="d">3</i><i class="d">5</i><i class="d">5</i><i class="p">.</i><i class="d">0</i></div>
<div class="a m" style="left:398.80px;width:121px;top:1030.96px"><i class="d">4</i><i class="d">6</i><i class="d">8</i><i class="p">.</i><i class="d">0</i></div>
<div class="a m" style="left:519.40px;width:121px;top:1030.96px"><i class="d">4</i><i class="d">6</i><i class="d">5</i><i class="p">.</i><i class="d">0</i></div>
<div class="a m" style="left:640.00px;width:121px;top:1030.96px"><i class="d">2</i><i class="d">5</i><i class="d">0</i></div>
<div class="a rb" style="left:32px;top:1050.54px;width:729px;height:23.58px"></div>
<div class="a" style="left:276.0px;top:1050.54px;width:2px;height:23.58px;background:#f3f6fa"></div>
<div class="a" style="left:397.0px;top:1050.54px;width:2px;height:23.58px;background:#f3f6fa"></div>
<div class="a" style="left:518.0px;top:1050.54px;width:2px;height:23.58px;background:#f3f6fa"></div>
<div class="a" style="left:639.0px;top:1050.54px;width:2px;height:23.58px;background:#f3f6fa"></div>
<div class="a m" style="left:31.10px;width:245px;top:1055.24px"><i class="L">E</i><i class="L">V</i><i class="d">5</i><i class="d">1</i><i class="d">0</i><i class="L">E</i><i class="h">-</i><i class="d">2</i><i class="d">8</i><i class="d">0</i><i class="d">0</i><i class="G">G</i><i class="h">-</i><i class="L">T</i><i class="d">4</i></div>
<div class="a m" style="left:277.00px;width:121px;top:1055.24px"><i class="d">3</i><i class="d">9</i><i class="d">6</i><i class="p">.</i><i class="d">0</i></div>
<div class="a m" style="left:398.80px;width:121px;top:1055.24px"><i class="d">5</i><i class="d">2</i><i class="d">5</i><i class="p">.</i><i class="d">0</i></div>
<div class="a m" style="left:519.40px;width:121px;top:1055.24px"><i class="d">5</i><i class="d">2</i><i class="d">0</i><i class="p">.</i><i class="d">0</i></div>
<div class="a m" style="left:640.00px;width:121px;top:1055.24px"><i class="d">2</i><i class="d">8</i><i class="d">0</i></div>
<div class="a" style="left:276.5px;top:1074.52px;width:1px;height:24.28px;background:#f6f6f6"></div>
<div class="a" style="left:397.5px;top:1074.52px;width:1px;height:24.28px;background:#f6f6f6"></div>
<div class="a" style="left:518.5px;top:1074.52px;width:1px;height:24.28px;background:#f6f6f6"></div>
<div class="a" style="left:639.5px;top:1074.52px;width:1px;height:24.28px;background:#f6f6f6"></div>
<div class="a m" style="left:31.10px;width:245px;top:1079.52px"><i class="L">E</i><i class="L">V</i><i class="d">5</i><i class="d">1</i><i class="d">0</i><i class="L">E</i><i class="h">-</i><i class="d">3</i><i class="d">1</i><i class="d">5</i><i class="d">0</i><i class="G">G</i><i class="h">-</i><i class="L">T</i><i class="d">4</i></div>
<div class="a m" style="left:277.00px;width:121px;top:1079.52px"><i class="d">4</i><i class="d">4</i><i class="d">5</i><i class="p">.</i><i class="d">0</i></div>
<div class="a m" style="left:398.80px;width:121px;top:1079.52px"><i class="d">5</i><i class="d">9</i><i class="d">0</i><i class="p">.</i><i class="d">0</i></div>
<div class="a m" style="left:519.40px;width:121px;top:1079.52px"><i class="d">5</i><i class="d">8</i><i class="d">5</i><i class="p">.</i><i class="d">0</i></div>
<div class="a m" style="left:640.00px;width:121px;top:1079.52px"><i class="d">3</i><i class="d">1</i><i class="d">5</i></div>
<div class="a rb" style="left:32px;top:1099.10px;width:729px;height:23.58px"></div>
<div class="a" style="left:276.0px;top:1099.10px;width:2px;height:23.58px;background:#f3f6fa"></div>
<div class="a" style="left:397.0px;top:1099.10px;width:2px;height:23.58px;background:#f3f6fa"></div>
<div class="a" style="left:518.0px;top:1099.10px;width:2px;height:23.58px;background:#f3f6fa"></div>
<div class="a" style="left:639.0px;top:1099.10px;width:2px;height:23.58px;background:#f3f6fa"></div>
<div class="a m" style="left:31.10px;width:245px;top:1103.80px"><i class="L">E</i><i class="L">V</i><i class="d">5</i><i class="d">1</i><i class="d">0</i><i class="L">E</i><i class="h">-</i><i class="d">3</i><i class="d">5</i><i class="d">0</i><i class="d">0</i><i class="G">G</i><i class="h">-</i><i class="L">T</i><i class="d">4</i></div>
<div class="a m" style="left:277.00px;width:121px;top:1103.80px"><i class="d">5</i><i class="d">0</i><i class="d">0</i><i class="p">.</i><i class="d">0</i></div>
<div class="a m" style="left:398.80px;width:121px;top:1103.80px"><i class="d">6</i><i class="d">6</i><i class="d">5</i><i class="p">.</i><i class="d">0</i></div>
<div class="a m" style="left:519.40px;width:121px;top:1103.80px"><i class="d">6</i><i class="d">5</i><i class="d">0</i><i class="p">.</i><i class="d">0</i></div>
<div class="a m" style="left:640.00px;width:121px;top:1103.80px"><i class="d">3</i><i class="d">5</i><i class="d">0</i></div>
<div class="a" style="left:276.5px;top:1123.07px;width:1px;height:24.28px;background:#f6f6f6"></div>
<div class="a" style="left:397.5px;top:1123.07px;width:1px;height:24.28px;background:#f6f6f6"></div>
<div class="a" style="left:518.5px;top:1123.07px;width:1px;height:24.28px;background:#f6f6f6"></div>
<div class="a" style="left:639.5px;top:1123.07px;width:1px;height:24.28px;background:#f6f6f6"></div>
<div class="a m" style="left:31.10px;width:245px;top:1128.07px"><i class="L">E</i><i class="L">V</i><i class="d">5</i><i class="d">1</i><i class="d">0</i><i class="L">E</i><i class="h">-</i><i class="d">4</i><i class="d">0</i><i class="d">0</i><i class="d">0</i><i class="G">G</i><i class="h">-</i><i class="L">T</i><i class="d">4</i></div>
<div class="a m" style="left:277.00px;width:121px;top:1128.07px"><i class="d">5</i><i class="d">6</i><i class="d">5</i><i class="p">.</i><i class="d">0</i></div>
<div class="a m" style="left:398.80px;width:121px;top:1128.07px"><i class="d">7</i><i class="d">8</i><i class="d">5</i><i class="p">.</i><i class="d">0</i></div>
<div class="a m" style="left:519.40px;width:121px;top:1128.07px"><i class="d">7</i><i class="d">2</i><i class="d">5</i><i class="p">.</i><i class="d">0</i></div>
<div class="a m" style="left:640.00px;width:121px;top:1128.07px"><i class="d">4</i><i class="d">0</i><i class="d">0</i></div>
<div class="a rb" style="left:32px;top:1147.65px;width:729px;height:23.58px"></div>
<div class="a" style="left:276.0px;top:1147.65px;width:2px;height:23.58px;background:#f3f6fa"></div>
<div class="a" style="left:397.0px;top:1147.65px;width:2px;height:23.58px;background:#f3f6fa"></div>
<div class="a" style="left:518.0px;top:1147.65px;width:2px;height:23.58px;background:#f3f6fa"></div>
<div class="a" style="left:639.0px;top:1147.65px;width:2px;height:23.58px;background:#f3f6fa"></div>
<div class="a m" style="left:31.10px;width:245px;top:1152.35px"><i class="L">E</i><i class="L">V</i><i class="d">5</i><i class="d">1</i><i class="d">0</i><i class="L">E</i><i class="h">-</i><i class="d">5</i><i class="d">0</i><i class="d">0</i><i class="d">0</i><i class="G">G</i><i class="h">-</i><i class="L">T</i><i class="d">4</i></div>
<div class="a m" style="left:277.00px;width:121px;top:1152.35px"><i class="d">7</i><i class="d">0</i><i class="d">0</i><i class="p">.</i><i class="d">0</i></div>
<div class="a m" style="left:398.80px;width:121px;top:1152.35px"><i class="d">8</i><i class="d">9</i><i class="d">0</i><i class="p">.</i><i class="d">0</i></div>
<div class="a m" style="left:519.40px;width:121px;top:1152.35px"><i class="d">8</i><i class="d">7</i><i class="d">0</i><i class="p">.</i><i class="d">0</i></div>
<div class="a m" style="left:640.00px;width:121px;top:1152.35px"><i class="d">5</i><i class="d">0</i><i class="d">0</i></div>
</body></html>
